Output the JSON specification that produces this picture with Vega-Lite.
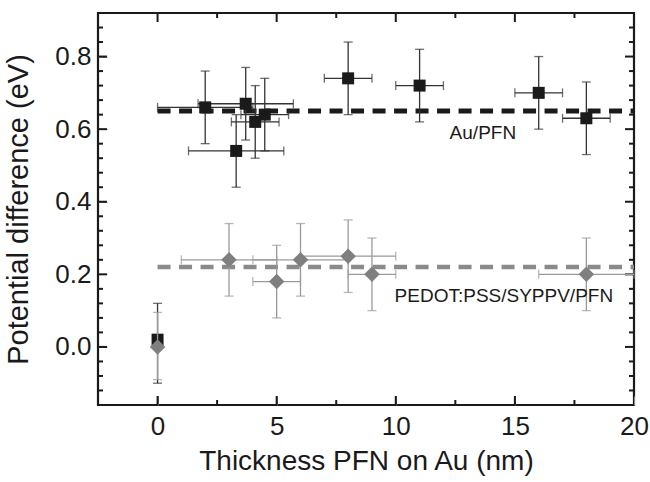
{
  "$schema": "https://vega.github.io/schema/vega-lite/v6.json",
  "width": 536,
  "height": 392,
  "autosize": {"type": "none"},
  "padding": {"left": 98, "top": 13, "right": 16, "bottom": 77},
  "config": {
    "view": {"stroke": "#1a1a1a", "strokeWidth": 2.2},
    "font": "Liberation Sans",
    "axis": {"grid": false, "domain": false, "labelFlush": false, "labelOverlap": false}
  },
  "datasets": {
    "au": [
      {"x": 0, "y": 0.02, "ylo": -0.1, "yhi": 0.12, "xlo": 0, "xhi": 0},
      {"x": 2, "y": 0.66, "ylo": 0.56, "yhi": 0.76, "xlo": 0, "xhi": 4},
      {"x": 3.3, "y": 0.54, "ylo": 0.44, "yhi": 0.64, "xlo": 1.3, "xhi": 5.3},
      {"x": 3.7, "y": 0.67, "ylo": 0.57, "yhi": 0.77, "xlo": 1.7, "xhi": 5.7},
      {"x": 4.1, "y": 0.62, "ylo": 0.52, "yhi": 0.72, "xlo": 3.1, "xhi": 5.1},
      {"x": 4.5, "y": 0.64, "ylo": 0.54, "yhi": 0.74, "xlo": 3.5, "xhi": 5.5},
      {"x": 8, "y": 0.74, "ylo": 0.64, "yhi": 0.84, "xlo": 7, "xhi": 9},
      {"x": 11, "y": 0.72, "ylo": 0.62, "yhi": 0.82, "xlo": 10, "xhi": 12},
      {"x": 16, "y": 0.70, "ylo": 0.60, "yhi": 0.80, "xlo": 15, "xhi": 17},
      {"x": 18, "y": 0.63, "ylo": 0.53, "yhi": 0.73, "xlo": 17, "xhi": 19}
    ],
    "pedot": [
      {"x": 0, "y": 0.0, "ylo": -0.09, "yhi": 0.095, "xlo": 0, "xhi": 0},
      {"x": 3, "y": 0.24, "ylo": 0.14, "yhi": 0.34, "xlo": 1, "xhi": 5},
      {"x": 5, "y": 0.18, "ylo": 0.08, "yhi": 0.28, "xlo": 4, "xhi": 6},
      {"x": 6, "y": 0.24, "ylo": 0.14, "yhi": 0.34, "xlo": 4, "xhi": 8},
      {"x": 8, "y": 0.25, "ylo": 0.15, "yhi": 0.35, "xlo": 6, "xhi": 10},
      {"x": 9, "y": 0.20, "ylo": 0.10, "yhi": 0.30, "xlo": 8, "xhi": 10},
      {"x": 18, "y": 0.20, "ylo": 0.10, "yhi": 0.30, "xlo": 16, "xhi": 20}
    ],
    "lines": [
      {"s": "Au/PFN", "x": 0, "y": 0.65},
      {"s": "Au/PFN", "x": 20, "y": 0.65},
      {"s": "PEDOT", "x": 0, "y": 0.22},
      {"s": "PEDOT", "x": 20, "y": 0.22}
    ],
    "labels": [
      {"label": "Au/PFN", "x": 12.26, "y": 0.59},
      {"label": "PEDOT:PSS/SYPPV/PFN", "x": 9.95, "y": 0.139}
    ],
    "xticks": [
      {"v": -2.5, "kind": "minor"}, {"v": 0, "kind": "major"}, {"v": 2.5, "kind": "minor"},
      {"v": 5, "kind": "major"}, {"v": 7.5, "kind": "minor"}, {"v": 10, "kind": "major"},
      {"v": 12.5, "kind": "minor"}, {"v": 15, "kind": "major"}, {"v": 17.5, "kind": "minor"},
      {"v": 20, "kind": "major"}
    ],
    "yticks": [
      {"v": -0.16, "kind": "minor"}, {"v": -0.12, "kind": "minor"}, {"v": -0.08, "kind": "minor"}, {"v": -0.04, "kind": "minor"},
      {"v": 0, "kind": "major"}, {"v": 0.04, "kind": "minor"}, {"v": 0.08, "kind": "minor"}, {"v": 0.12, "kind": "minor"}, {"v": 0.16, "kind": "minor"},
      {"v": 0.2, "kind": "major"}, {"v": 0.24, "kind": "minor"}, {"v": 0.28, "kind": "minor"}, {"v": 0.32, "kind": "minor"}, {"v": 0.36, "kind": "minor"},
      {"v": 0.4, "kind": "major"}, {"v": 0.44, "kind": "minor"}, {"v": 0.48, "kind": "minor"}, {"v": 0.52, "kind": "minor"}, {"v": 0.56, "kind": "minor"},
      {"v": 0.6, "kind": "major"}, {"v": 0.64, "kind": "minor"}, {"v": 0.68, "kind": "minor"}, {"v": 0.72, "kind": "minor"}, {"v": 0.76, "kind": "minor"},
      {"v": 0.8, "kind": "major"}, {"v": 0.84, "kind": "minor"}, {"v": 0.88, "kind": "minor"}, {"v": 0.92, "kind": "minor"}
    ]
  },
  "layer": [
    {
      "data": {"name": "lines"},
      "transform": [{"filter": "datum.s === 'PEDOT'"}],
      "mark": {"type": "line", "color": "#8a8a8a", "strokeWidth": 4.5, "strokeDash": [13, 8.5]},
      "encoding": {
        "x": {"field": "x", "type": "quantitative", "scale": {"domain": [-2.5, 20], "nice": false, "zero": false},
          "axis": {
            "orient": "bottom",
            "values": [0, 5, 10, 15, 20],
            "format": "d",
            "offset": -9, "tickSize": 9,
            "labelFontSize": 26, "labelColor": "#1a1a1a", "labelPadding": 8,
            "title": "Thickness PFN on Au (nm)", "titleFontSize": 28, "titleFontWeight": "normal",
            "titleColor": "#1a1a1a", "titlePadding": 8
          }},
        "y": {"field": "y", "type": "quantitative", "scale": {"domain": [-0.16, 0.92], "nice": false, "zero": false},
          "axis": {
            "orient": "left",
            "values": [0, 0.2, 0.4, 0.6, 0.8],
            "format": ".1f",
            "offset": -9, "tickSize": 9,
            "labelFontSize": 26, "labelColor": "#1a1a1a", "labelPadding": 7,
            "title": "Potential difference (eV)", "titleFontSize": 29, "titleFontWeight": "normal",
            "titleColor": "#1a1a1a", "titlePadding": 21
          }}
      }
    },
    {
      "data": {"name": "lines"},
      "transform": [{"filter": "datum.s === 'Au/PFN'"}],
      "mark": {"type": "line", "color": "#1a1a1a", "strokeWidth": 5, "strokeDash": [13, 8.5]},
      "encoding": {
        "x": {"field": "x", "type": "quantitative", "axis": null},
        "y": {"field": "y", "type": "quantitative", "axis": null}
      }
    },
    {
      "data": {"name": "xticks"},
      "mark": {"type": "tick", "orient": "vertical", "thickness": 2, "color": "#1a1a1a", "opacity": 1, "clip": true},
      "encoding": {
        "x": {"field": "v", "type": "quantitative", "axis": null},
        "y": {"datum": -0.16, "type": "quantitative", "axis": null},
        "size": {"field": "kind", "type": "nominal", "scale": {"domain": ["major", "minor"], "range": [18, 10]}, "legend": null}
      }
    },
    {
      "data": {"name": "xticks"},
      "mark": {"type": "tick", "orient": "vertical", "thickness": 2, "color": "#1a1a1a", "opacity": 1, "clip": true},
      "encoding": {
        "x": {"field": "v", "type": "quantitative", "axis": null},
        "y": {"datum": 0.92, "type": "quantitative", "axis": null},
        "size": {"field": "kind", "type": "nominal", "scale": {"domain": ["major", "minor"], "range": [18, 10]}, "legend": null}
      }
    },
    {
      "data": {"name": "yticks"},
      "mark": {"type": "tick", "orient": "horizontal", "thickness": 2, "color": "#1a1a1a", "opacity": 1, "clip": true},
      "encoding": {
        "y": {"field": "v", "type": "quantitative", "axis": null},
        "x": {"datum": -2.5, "type": "quantitative", "axis": null},
        "size": {"field": "kind", "type": "nominal", "scale": {"domain": ["major", "minor"], "range": [18, 10]}, "legend": null}
      }
    },
    {
      "data": {"name": "yticks"},
      "mark": {"type": "tick", "orient": "horizontal", "thickness": 2, "color": "#1a1a1a", "opacity": 1, "clip": true},
      "encoding": {
        "y": {"field": "v", "type": "quantitative", "axis": null},
        "x": {"datum": 20, "type": "quantitative", "axis": null},
        "size": {"field": "kind", "type": "nominal", "scale": {"domain": ["major", "minor"], "range": [18, 10]}, "legend": null}
      }
    },
    {
      "data": {"name": "au"},
      "mark": {"type": "errorbar", "color": "#333333", "thickness": 1.3, "ticks": {"size": 9}},
      "encoding": {
        "x": {"field": "x", "type": "quantitative", "axis": null},
        "y": {"field": "ylo", "type": "quantitative", "axis": null},
        "y2": {"field": "yhi"}
      }
    },
    {
      "data": {"name": "au"},
      "transform": [{"filter": "datum.xlo < datum.xhi"}],
      "mark": {"type": "errorbar", "color": "#333333", "thickness": 1.3, "ticks": {"size": 9}},
      "encoding": {
        "y": {"field": "y", "type": "quantitative", "axis": null},
        "x": {"field": "xlo", "type": "quantitative", "axis": null},
        "x2": {"field": "xhi"}
      }
    },
    {
      "data": {"name": "au"},
      "mark": {"type": "point", "shape": "square", "filled": true, "size": 144, "color": "#1a1a1a", "opacity": 1},
      "encoding": {
        "x": {"field": "x", "type": "quantitative", "axis": null},
        "y": {"field": "y", "type": "quantitative", "axis": null}
      }
    },
    {
      "data": {"name": "pedot"},
      "mark": {"type": "errorbar", "color": "#9a9a9a", "thickness": 1.3, "ticks": {"size": 9}},
      "encoding": {
        "x": {"field": "x", "type": "quantitative", "axis": null},
        "y": {"field": "ylo", "type": "quantitative", "axis": null},
        "y2": {"field": "yhi"}
      }
    },
    {
      "data": {"name": "pedot"},
      "transform": [{"filter": "datum.xlo < datum.xhi"}],
      "mark": {"type": "errorbar", "color": "#9a9a9a", "thickness": 1.3, "ticks": {"size": 9}},
      "encoding": {
        "y": {"field": "y", "type": "quantitative", "axis": null},
        "x": {"field": "xlo", "type": "quantitative", "axis": null},
        "x2": {"field": "xhi"}
      }
    },
    {
      "data": {"name": "pedot"},
      "mark": {"type": "point", "shape": "diamond", "filled": true, "size": 240, "color": "#7f7f7f", "opacity": 1},
      "encoding": {
        "x": {"field": "x", "type": "quantitative", "axis": null},
        "y": {"field": "y", "type": "quantitative", "axis": null}
      }
    },
    {
      "data": {"name": "labels"},
      "mark": {"type": "text", "align": "left", "baseline": "middle", "fontSize": 19, "color": "#1a1a1a"},
      "encoding": {
        "text": {"field": "label"},
        "x": {"field": "x", "type": "quantitative", "axis": null},
        "y": {"field": "y", "type": "quantitative", "axis": null}
      }
    }
  ],
  "resolve": {"axis": {"x": "independent", "y": "independent"}}
}
